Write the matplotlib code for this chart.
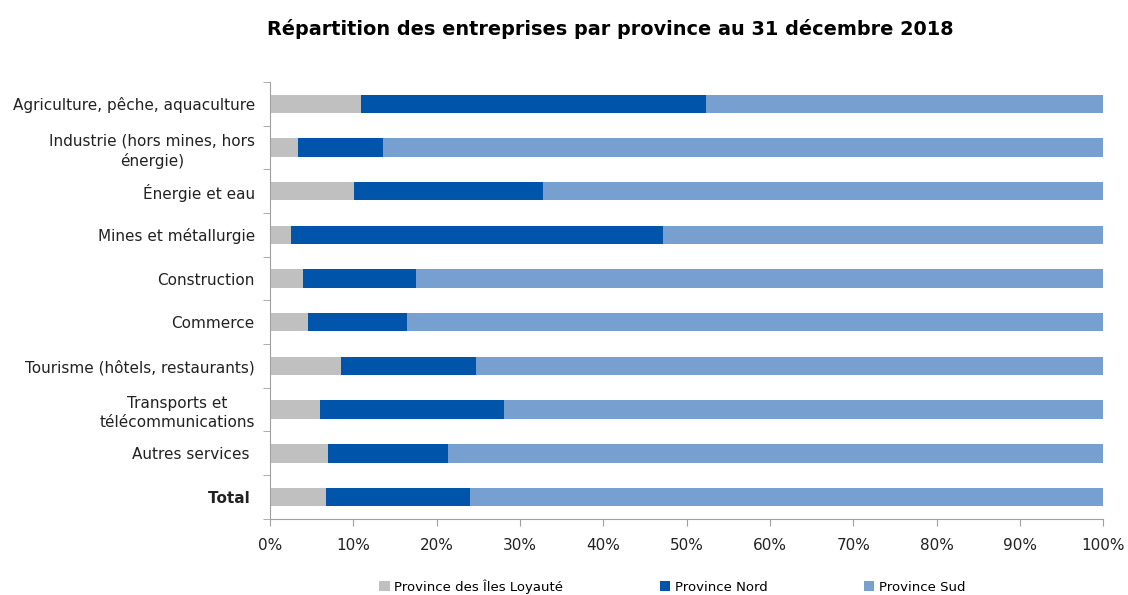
import numpy as np
import matplotlib.pyplot as plt
from matplotlib.ticker import PercentFormatter

categories = ['Agriculture, pêche, aquaculture', 'Industrie (hors mines, hors\nénergie)',
              'Énergie et eau', 'Mines et métallurgie', 'Construction', 'Commerce',
              'Tourisme (hôtels, restaurants)', 'Transports et\ntélécommunications',
              'Autres services ', 'Total ']
iles = [10.9, 3.3, 10.1, 2.5, 3.9, 4.6, 8.5, 6.0, 6.9, 6.7]
nord = [41.4, 10.2, 22.7, 44.7, 13.6, 11.8, 16.2, 22.1, 14.4, 17.3]
sud = [47.7, 86.5, 67.2, 52.8, 82.5, 83.6, 75.3, 71.9, 78.7, 76.0]

series_names = ['Province des Îles Loyauté', 'Province Nord', 'Province Sud']
colors = ['#c0c0c0', '#0055aa', '#77a0d1']

fig = plt.figure(figsize=(11.28, 5.95), dpi=100)
ax = fig.add_axes([0.2394, 0.128, 0.7386, 0.734])

y = np.arange(len(categories))[::-1]
left = np.zeros(len(categories))
for vals, name, c in zip([iles, nord, sud], series_names, colors):
    ax.barh(y, vals, left=left, height=0.42, color=c, label=name)
    left += np.array(vals)

ax.set_xlim(0, 100)
ax.set_ylim(-0.5, len(categories) - 0.5)
ax.set_xticks(np.arange(0, 101, 10))
ax.xaxis.set_major_formatter(PercentFormatter(decimals=0))

ax.set_yticks(y)
ax.set_yticklabels(categories)
ax.set_yticks(np.arange(-0.5, len(categories), 1), minor=True)
ax.tick_params(axis='y', which='major', length=0, pad=11, labelsize=11, labelcolor='#222222')
ax.tick_params(axis='y', which='minor', length=5, color='#a0a0a0')
ax.tick_params(axis='x', length=5, pad=9, color='#a0a0a0', labelsize=11, labelcolor='#222222')
for lab in ax.get_yticklabels():
    lab.set_multialignment('center')
    lab.set_linespacing(1.3)
    if lab.get_text().strip() == 'Total':
        lab.set_fontweight('bold')

for s in ['top', 'right']:
    ax.spines[s].set_visible(False)
for s in ['left', 'bottom']:
    ax.spines[s].set_color('#a0a0a0')

fig.suptitle('Répartition des entreprises par province au 31 décembre 2018',
             x=0.541, y=0.968, fontsize=13.9, fontweight='bold')

fig.legend(loc='lower center', bbox_to_anchor=(0.596, -0.018), ncol=3, frameon=False,
           fontsize=9.5, handlelength=0.8, handleheight=0.8, handletextpad=0.35,
           columnspacing=7.3)

fig.savefig('out.png', dpi=100)
